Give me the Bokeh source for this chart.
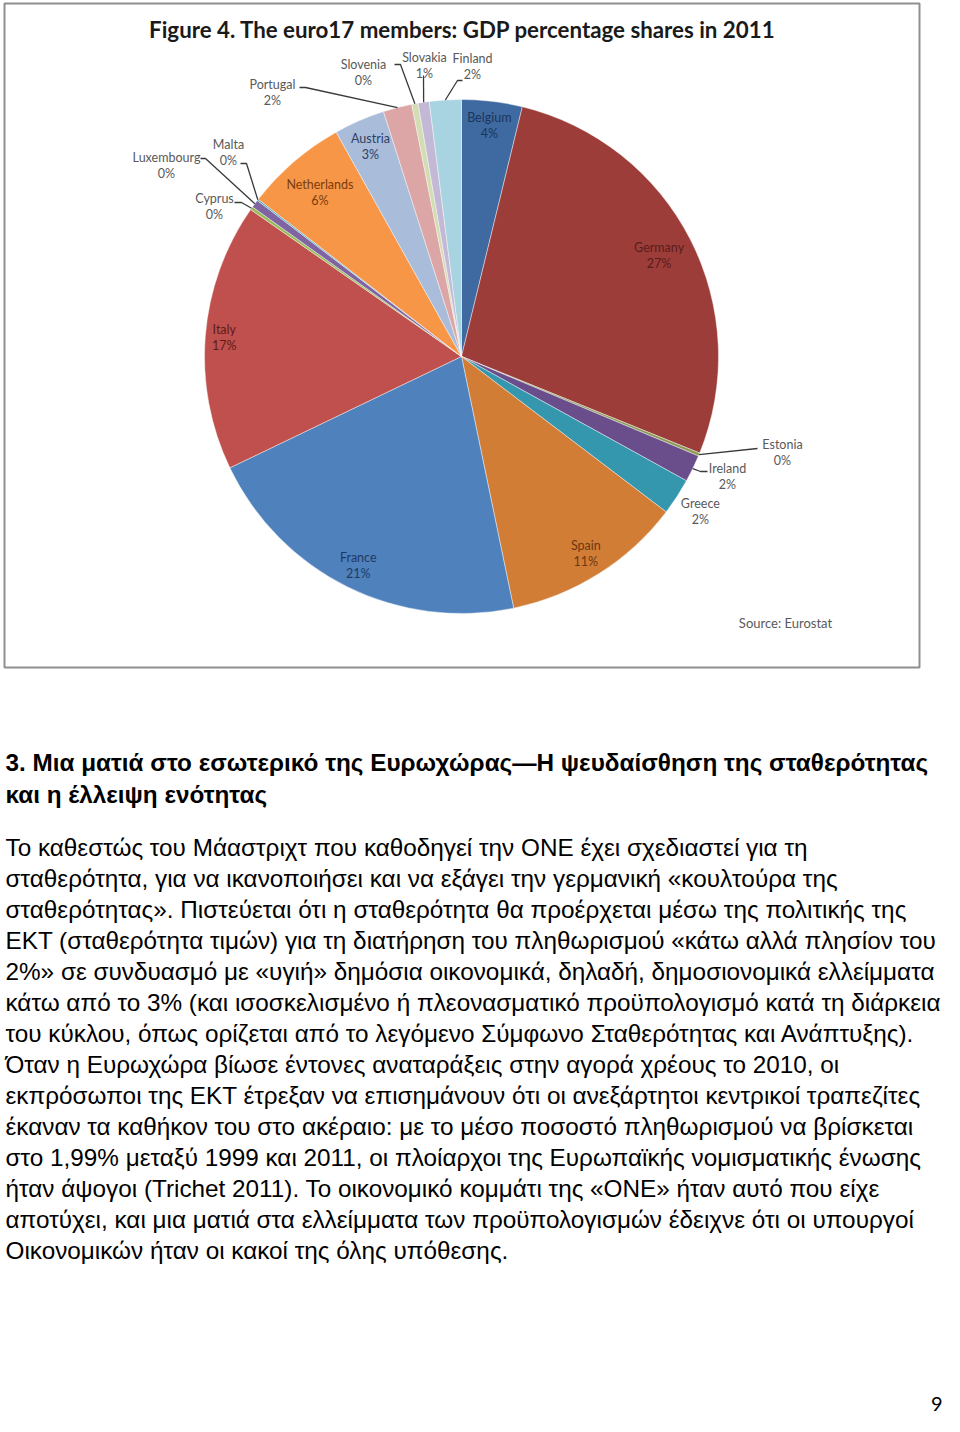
import math
from bokeh.plotting import figure
from bokeh.models import Range1d, ColumnDataSource
from bokeh.core.properties import value
from bokeh.embed import file_html
from bokeh.resources import INLINE

# ---------------- data ----------------
countries = ["Belgium", "Germany", "Estonia", "Ireland", "Greece", "Spain", "France",
             "Italy", "Cyprus", "Luxembourg", "Malta", "Netherlands", "Austria",
             "Portugal", "Slovenia", "Slovakia", "Finland"]
shares = [3.8, 27.3, 0.2, 1.7, 2.3, 11.4, 21.1, 16.8, 0.2, 0.5, 0.1, 6.4, 3.2,
          1.8, 0.4, 0.7, 2.0]
title = "Figure 4. The euro17 members: GDP percentage shares in 2011"
source_note = "Source: Eurostat"

heading_lines = [
    "3. Μια ματιά στο εσωτερικό της Ευρωχώρας\u2014Η ψευδαίσθηση της σταθερότητας",
    "και η έλλειψη ενότητας",
]
body_lines = [
    "Το καθεστώς του Μάαστριχτ που καθοδηγεί την ΟΝΕ έχει σχεδιαστεί για τη",
    "σταθερότητα, για να ικανοποιήσει και να εξάγει την γερμανική «κουλτούρα της",
    "σταθερότητας». Πιστεύεται ότι η σταθερότητα θα προέρχεται μέσω της πολιτικής της",
    "ΕΚΤ (σταθερότητα τιμών) για τη διατήρηση του πληθωρισμού «κάτω αλλά πλησίον του",
    "2%» σε συνδυασμό με «υγιή» δημόσια οικονομικά, δηλαδή, δημοσιονομικά ελλείμματα",
    "κάτω από το 3% (και ισοσκελισμένο ή πλεονασματικό προϋπολογισμό κατά τη διάρκεια",
    "του κύκλου, όπως ορίζεται από το λεγόμενο Σύμφωνο Σταθερότητας και Ανάπτυξης).",
    "Όταν η Ευρωχώρα βίωσε έντονες αναταράξεις στην αγορά χρέους το 2010, οι",
    "εκπρόσωποι της ΕΚΤ έτρεξαν να επισημάνουν ότι οι ανεξάρτητοι κεντρικοί τραπεζίτες",
    "έκαναν τα καθήκον του στο ακέραιο: με το μέσο ποσοστό πληθωρισμού να βρίσκεται",
    "στο 1,99% μεταξύ 1999 και 2011, οι πλοίαρχοι της Ευρωπαϊκής νομισματικής ένωσης",
    "ήταν άψογοι (Trichet 2011). Το οικονομικό κομμάτι της «ΟΝΕ» ήταν αυτό που είχε",
    "αποτύχει, και μια ματιά στα ελλείμματα των προϋπολογισμών έδειχνε ότι οι υπουργοί",
    "Οικονομικών ήταν οι κακοί της όλης υπόθεσης.",
]
page_number = "9"

# ---------------- styles / layout ----------------
colors = ["#3F6AA1", "#9C3D3A", "#8E9B57", "#6A4E8C", "#3597AE", "#D17D36", "#4F81BD",
          "#C0504D", "#9BBB59", "#8064A2", "#4BACC6", "#F79646", "#A9BCDA",
          "#DBA6A5", "#D3DDB4", "#C3B8D6", "#A8D3E0"]
inside_label_colors = {"Belgium": "#1B3559", "Germany": "#5A1C1B", "Spain": "#6B3812",
                       "France": "#1F3A62", "Italy": "#5E1A18", "Netherlands": "#7A3D0E",
                       "Austria": "#2E4266"}
outside_gray = "#595959"

W, H = 944, 1416


def X(px):
    return px


def Y(py):
    return H - py


CX, CY, R = 461, 356, 257  # page px
# radial label distance (page px) for labels placed along the slice bisector
radial_labels = {"Belgium": 233, "Germany": 222, "Greece": 285, "Spain": 233,
                 "France": 233, "Italy": 238, "Netherlands": 217, "Austria": 229}
# callout labels: (label block centre, leader elbow, leader end) in page px
callouts = {
    "Estonia": ((782, 452), (757, 448), (757, 448)),
    "Ireland": ((727, 476), (700, 471), (707, 471)),
    "Cyprus": ((214, 206), (241, 202), (234, 202)),
    "Luxembourg": ((166, 165), (205, 158), (200, 158)),
    "Malta": ((228, 152), (246, 163), (240, 163)),
    "Portugal": ((272, 92), (305, 87), (299, 87)),
    "Slovenia": ((363, 72), (400, 64), (394, 64)),
    "Slovakia": ((424, 65), (423, 75), (423, 75)),
    "Finland": ((472, 66), (457, 80), (462, 80)),
}

p = figure(width=W, height=H, x_range=Range1d(0, W), y_range=Range1d(0, H),
           output_backend="svg", toolbar_location=None, min_border=0)
p.axis.visible = False
p.grid.visible = False
p.outline_line_color = None
p.background_fill_color = "white"
p.border_fill_color = "white"

# chart frame
p.quad(left=X(4), right=X(919), top=Y(3), bottom=Y(667), fill_color=None,
       line_color="#8f8f8f", line_width=2)

# ---------------- pie ----------------
total = sum(shares)
starts, ends, mids = [], [], []
acc = 0.0
for v in shares:
    c0 = acc / total
    acc += v
    c1 = acc / total
    starts.append(math.pi / 2 - 2 * math.pi * c1)
    ends.append(math.pi / 2 - 2 * math.pi * c0)
    mids.append((c0 + c1) / 2 * 360.0)  # degrees clockwise from 12 o'clock

src = ColumnDataSource(dict(start=starts, end=ends, color=colors))
p.wedge(x=X(CX), y=Y(CY), radius=R, start_angle="start", end_angle="end",
        fill_color="color", line_color="white", line_width=0.7, line_alpha=0.6,
        source=src)

# ---------------- labels ----------------
nx, ny, nt, ncol = [], [], [], []
lx, ly = [], []
for name, v, mid in zip(countries, shares, mids):
    pct = f"{round(v)}%"
    a = math.radians(mid)
    if name in radial_labels:
        r = radial_labels[name]
        bx = CX + r * math.sin(a)
        by = CY - r * math.cos(a)
        col = inside_label_colors.get(name, outside_gray)
    else:
        (bx, by), elbow, end = callouts[name]
        col = outside_gray
        ex = CX + R * math.sin(a)
        ey = CY - R * math.cos(a)
        lx.append([X(ex), X(elbow[0]), X(end[0])])
        ly.append([Y(ey), Y(elbow[1]), Y(end[1])])
    nx += [X(bx), X(bx)]
    ny += [Y(by - 8), Y(by + 8)]
    nt += [name, pct]
    ncol += [col, col]

p.multi_line(xs=lx, ys=ly, line_color="#3a3a3a", line_width=1.3)
p.text(x=nx, y=ny, text=nt, text_color=ncol, text_font=value("Lato"),
       text_font_size="12.5px", text_align="center", text_baseline="middle")

# title and source
p.text(x=[X(462)], y=[Y(29)], text=[title], text_font=value("Lato"),
       text_font_style="bold", text_font_size="22.3px", text_color="#1a1a1a",
       text_align="center", text_baseline="middle")
p.text(x=[X(785)], y=[Y(622)], text=[source_note], text_font=value("Lato"),
       text_font_size="13px", text_color=outside_gray, text_align="center",
       text_baseline="middle")

# ---------------- paragraph text ----------------
hy = [762, 794]
p.text(x=[X(5)] * len(heading_lines), y=[Y(v) for v in hy], text=heading_lines,
       text_font=value("Liberation Sans"), text_font_style="bold",
       text_font_size="24.3px", text_color="black", text_align="left",
       text_baseline="middle")
by_ = [847 + 31 * i for i in range(len(body_lines))]
p.text(x=[X(5)] * len(body_lines), y=[Y(v) for v in by_], text=body_lines,
       text_font=value("Liberation Sans"), text_font_size="24.3px", text_color="black",
       text_align="left", text_baseline="middle")

p.text(x=[X(942)], y=[Y(1403)], text=[page_number], text_font=value("Lato"),
       text_font_size="20px", text_color="black", text_align="right",
       text_baseline="middle")

open("out.html", "w").write(file_html(p, INLINE))
